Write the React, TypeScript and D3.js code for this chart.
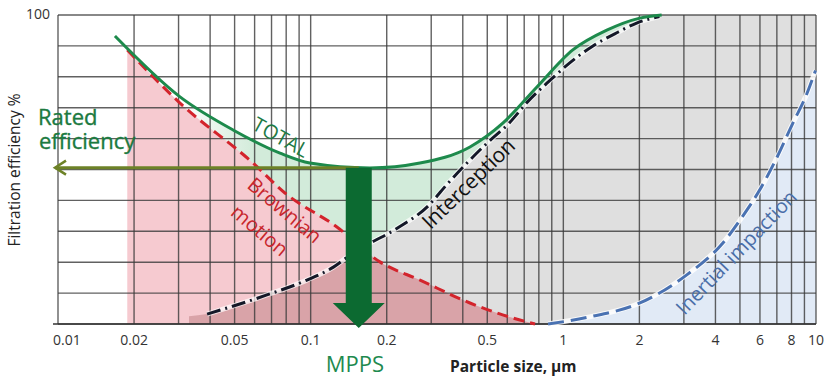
import React from 'react';
import * as d3 from 'd3';

// ---- data (particle size in µm, efficiency in %) ----
const totalX = [0.0168, 0.0304, 0.0493, 0.0756, 0.0993, 0.1716, 0.2707, 0.427, 0.576, 0.786, 1.09, 1.486, 2.01, 2.45];
const totalY = [93.2, 73.5, 62.8, 55.3, 52.1, 50.5, 52.1, 57.3, 65, 76.7, 88.7, 95.1, 99, 100];

const brownX = [0.0188, 0.0304, 0.0591, 0.0791, 0.127, 0.188, 0.271, 0.427, 0.673, 0.773];
const brownY = [88.7, 71.5, 52.1, 42.4, 31.4, 20.1, 14.2, 6.8, 1.3, 0];

const intX = [0.0389, 0.0671, 0.0966, 0.123, 0.147, 0.22, 0.29, 0.35, 0.5, 0.61, 0.72, 0.89, 1.06, 1.31, 1.65, 1.95, 2.4];
const intY = [3.2, 9.4, 14.2, 18.4, 23, 31, 38, 45.6, 58.6, 65, 71.8, 79, 84.5, 90, 94.5, 97.4, 99.5];
const intFillStart = [0.033, 2.5];

const inX = [0.87, 1.27, 2.01, 3.08, 4.28, 5.14, 6.0, 6.87, 8.1, 9.2, 9.95];
const inY = [0, 2.3, 6.8, 15.9, 26.2, 35, 43.5, 52.5, 65, 74.5, 82];

const ratedEff = 50.6;
const mpps = 0.155;

const xTickVals = [0.01, 0.02, 0.05, 0.1, 0.2, 0.5, 1, 2, 4, 6, 8, 10];
const xTickLabels = ['0.01', '0.02', '0.05', '0.1', '0.2', '0.5', '1', '2', '4', '6', '8', '10'];

const W = 827;
const H = 377;
const FONT = '"Open Sans", "Noto Sans", Arial, sans-serif';

export default function App() {
  const x = d3.scaleLog().domain([0.01, 10]).range([58, 816]);
  const y = d3.scaleLinear().domain([0, 100]).range([324, 15]);

  const pts = (xs: number[], ys: number[]) => xs.map((v, i) => [v, ys[i]] as [number, number]);
  const total = pts(totalX, totalY);
  const brown = pts(brownX, brownY);
  const inter = pts(intX, intY);
  const inert = pts(inX, inY);

  const line = d3.line<[number, number]>().x(d => x(d[0])).y(d => y(d[1])).curve(d3.curveMonotoneX);
  const area = d3.area<[number, number]>().x(d => x(d[0])).y0(y(0)).y1(d => y(d[1])).curve(d3.curveMonotoneX);

  const grayPath = area([[intFillStart[0], intFillStart[1]], ...inter, [2.45, 100], [10, 100]]) || '';
  const inertFill = area([...inert, [10, inY[inY.length - 1] + 0.5]]) || '';

  const vTicks = x.ticks();
  const hTicks = y.ticks(10);

  const yr = y(ratedEff);
  const xm = x(mpps);
  const shaftW = 26, headW = 52, headL = 25;
  const tipY = 328;
  const arrowPath = `M${xm - shaftW / 2},${yr} L${xm + shaftW / 2},${yr} L${xm + shaftW / 2},${tipY - headL} L${xm + headW / 2},${tipY - headL} L${xm},${tipY} L${xm - headW / 2},${tipY - headL} L${xm - shaftW / 2},${tipY - headL} Z`;

  return (
    <div style={{ position: 'absolute', left: 0, top: 0 }}>
      <svg width={W} height={H} style={{ display: 'block', background: '#fff' }}>
        <defs>
          <linearGradient id="gfade" gradientUnits="userSpaceOnUse" x1={x(0.03)} x2={x(0.06)} y1={0} y2={0}>
            <stop offset="0" stopColor="#d2ebda" stopOpacity={0} />
            <stop offset="1" stopColor="#d2ebda" stopOpacity={1} />
          </linearGradient>
          <clipPath id="grayClip">
            <path d={grayPath} />
          </clipPath>
        </defs>

        {/* fills */}
        <path d={area(total) || ''} fill="url(#gfade)" />
        <path d={grayPath} fill="#dfdfdf" />
        <path d={area(brown) || ''} fill="#f6cad0" />
        <g clipPath="url(#grayClip)">
          <path d={area(brown) || ''} fill="#d9a3a8" />
        </g>
        <path d={inertFill} fill="#e1eaf6" />

        {/* grid */}
        <g stroke="#3a3a3a" strokeOpacity={0.8} strokeWidth={1.4}>
          {vTicks.map((t, i) => (
            <line key={'v' + i} x1={x(t)} x2={x(t)} y1={y(100)} y2={y(0)} />
          ))}
          {hTicks.map((t, i) => (
            <line key={'h' + i} x1={x(0.01)} x2={x(10)} y1={y(t)} y2={y(t)} />
          ))}
        </g>
        <line x1={53} x2={x(10)} y1={y(0)} y2={y(0)} stroke="#333" strokeWidth={1.6} />

        {/* curves */}
        <path d={line(inter) || ''} fill="none" stroke="#fff" strokeOpacity={0.7} strokeWidth={5} />
        <path d={line(inter) || ''} fill="none" stroke="#141828" strokeWidth={3} strokeDasharray="14 5 2 5" />
        <path d={line(brown) || ''} fill="none" stroke="#d3242c" strokeWidth={3} strokeDasharray="11 6" />
        <path d={line(inert) || ''} fill="none" stroke="#fff" strokeOpacity={0.85} strokeWidth={5} />
        <path d={line(inert) || ''} fill="none" stroke="#4a72b2" strokeWidth={3} strokeDasharray="16 7" />
        <path d={line(total) || ''} fill="none" stroke="#1d8a4c" strokeWidth={3} />

        {/* rated efficiency arrow */}
        <line x1={55} x2={xm} y1={yr} y2={yr} stroke="#6d8227" strokeWidth={3} />
        <path d={`M${66},${yr - 7} L${55},${yr} L${66},${yr + 7}`} fill="none" stroke="#6d8227" strokeWidth={2.5} />

        {/* MPPS arrow */}
        <path d={arrowPath} fill="#0c6a31" />

        {/* axis labels */}
        <g fontFamily={FONT} fill="#333" fontSize={14}>
          <text x={38} y={19} textAnchor="middle">100</text>
          {xTickVals.map((t, i) => (
            <text key={'xt' + i} x={i === 0 ? 53 : x(t)} y={345} textAnchor={i === 0 ? 'start' : 'middle'}>{xTickLabels[i]}</text>
          ))}
        </g>
        <text transform="translate(20,170) rotate(-90)" textAnchor="middle" fontFamily={FONT} fontSize={15.5} fill="#222">Filtration efficiency %</text>
        <text x={450} y={372} fontFamily={FONT} fontSize={15.5} fontWeight="bold" fill="#222">Particle size, µm</text>
        <text x={355} y={372} textAnchor="middle" fontFamily={FONT} fontSize={22} fill="#1e8a4f">MPPS</text>

        {/* annotations */}
        <g fontFamily={FONT} fontSize={22} fill="#1b7a40" stroke="#1b7a40" strokeWidth={0.35}>
          <text x={38} y={125}>Rated</text>
          <text x={39} y={149}>efficiency</text>
        </g>
        <text transform="translate(281,137) rotate(29)" textAnchor="middle" dominantBaseline="central" fontFamily={FONT} fontSize={20} fill="#1e7a45">TOTAL</text>
        <g fontFamily={FONT} fontSize={20} fill="#c8262c" textAnchor="middle" dominantBaseline="central">
          <text transform="translate(285,210) rotate(40)">Brownian</text>
          <text transform="translate(260,230) rotate(40)">motion</text>
        </g>
        <text transform="translate(468,183) rotate(-44)" textAnchor="middle" dominantBaseline="central" fontFamily={FONT} fontSize={21} fill="#111">Interception</text>
        <text transform="translate(736,252) rotate(-46)" textAnchor="middle" dominantBaseline="central" fontFamily={FONT} fontSize={20} fill="#4a6ea8">Inertial impaction</text>
      </svg>
    </div>
  );
}
